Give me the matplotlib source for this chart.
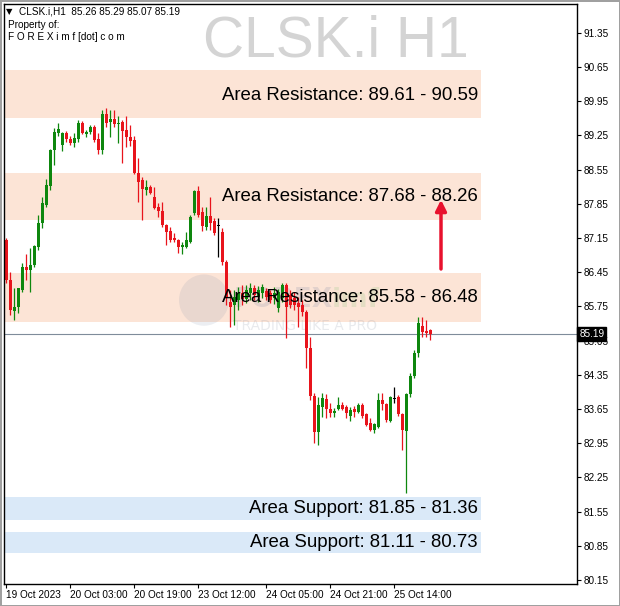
import matplotlib
matplotlib.use('Agg')
import matplotlib.pyplot as plt
import matplotlib.transforms as mtransforms
from matplotlib.patches import Ellipse

# OHLC H1 de CLSK.i
opens = [87.11, 86.29, 85.66, 85.74, 86.09, 86.56, 86.50, 86.60, 86.97, 87.46,
         87.83, 88.22, 88.96, 89.30, 89.06, 89.30, 89.18, 89.10, 89.18, 89.51,
         89.28, 89.32, 89.43, 89.18, 88.96, 89.69, 89.53, 89.59, 89.49, 89.53,
         89.37, 89.22, 89.16, 88.48, 88.34, 88.14, 88.20, 87.99, 87.79, 87.71,
         87.42, 87.30, 87.15, 87.11, 86.97, 86.97, 87.07, 87.67, 88.11, 87.69,
         87.38, 87.60, 87.50, 87.40, 87.28, 86.66, 85.84, 85.78, 85.88, 86.03,
         85.90, 86.03, 86.13, 85.94, 86.03, 86.07, 86.03, 85.92, 85.72, 85.92,
         86.19, 85.99, 85.92, 85.82, 85.78, 85.64, 84.90, 83.92, 83.18, 83.69,
         83.85, 83.65, 83.57, 83.65, 83.73, 83.69, 83.51, 83.65, 83.59, 83.73,
         83.55, 83.36, 83.22, 83.28, 83.84, 83.75, 83.40, 83.85, 83.90, 83.55,
         83.20, 83.96, 84.33, 84.80, 85.35, 85.25, 85.26]
highs = [87.15, 86.46, 86.13, 86.13, 86.64, 86.83, 86.95, 87.01, 87.63, 87.99,
         88.36, 88.98, 89.41, 89.51, 89.32, 89.34, 89.24, 89.30, 89.57, 89.55,
         89.37, 89.47, 89.47, 89.30, 89.78, 89.82, 89.78, 89.78, 89.65, 89.57,
         89.65, 89.47, 89.24, 88.79, 88.40, 88.34, 88.24, 88.20, 87.87, 87.89,
         87.44, 87.38, 87.26, 87.13, 87.07, 87.28, 87.63, 88.14, 88.22, 87.79,
         87.79, 87.99, 87.56, 87.56, 87.36, 86.70, 86.09, 86.09, 86.15, 86.19,
         86.19, 86.23, 86.19, 86.17, 86.21, 86.13, 86.09, 86.15, 86.11, 86.23,
         86.23, 86.09, 86.05, 85.94, 85.88, 85.68, 85.13, 83.98, 83.90, 83.98,
         83.96, 83.77, 83.67, 83.90, 83.80, 83.73, 83.69, 83.71, 83.77, 83.77,
         83.57, 83.47, 83.36, 83.98, 83.98, 83.77, 83.92, 84.10, 83.94, 83.57,
         83.98, 84.39, 84.86, 85.53, 85.53, 85.47, 85.29]
lows = [86.23, 85.58, 85.47, 85.62, 86.05, 86.29, 86.05, 86.56, 86.91, 87.36,
        87.79, 88.14, 88.65, 89.24, 88.94, 89.12, 89.06, 89.02, 89.12, 89.28,
        89.22, 89.28, 89.12, 88.87, 88.87, 89.43, 89.22, 89.43, 89.10, 88.69,
        89.02, 89.04, 88.46, 87.89, 87.52, 88.03, 88.06, 87.75, 87.58, 87.38,
        87.01, 87.07, 87.07, 86.85, 86.83, 86.95, 87.05, 87.63, 87.58, 87.30,
        87.32, 87.32, 87.22, 86.77, 86.60, 85.78, 85.33, 85.37, 85.68, 85.78,
        85.82, 85.88, 85.88, 85.84, 85.92, 85.88, 85.82, 85.80, 85.64, 85.84,
        85.11, 85.72, 85.68, 85.33, 85.55, 84.49, 83.84, 82.96, 82.91, 83.49,
        83.47, 83.49, 83.49, 83.63, 83.63, 83.47, 83.40, 83.49, 83.57, 83.47,
        83.30, 83.20, 83.16, 83.26, 83.63, 83.38, 83.38, 83.77, 83.51, 82.81,
        81.93, 83.90, 84.29, 84.72, 85.13, 85.13, 85.07]
closes = [86.29, 85.68, 85.74, 86.13, 86.56, 86.50, 86.60, 86.99, 87.46, 87.87,
          88.24, 88.96, 89.32, 89.39, 89.30, 89.18, 89.10, 89.20, 89.51, 89.30,
          89.32, 89.43, 89.16, 88.96, 89.69, 89.51, 89.59, 89.49, 89.51, 89.34,
          89.22, 89.14, 88.48, 88.30, 88.16, 88.20, 88.08, 87.77, 87.71, 87.42,
          87.28, 87.11, 87.11, 86.97, 87.01, 87.11, 87.58, 88.11, 87.63, 87.40,
          87.60, 87.46, 87.26, 87.40, 86.66, 85.92, 85.74, 85.94, 86.03, 85.90,
          86.09, 86.13, 85.99, 86.09, 86.15, 85.94, 85.88, 86.03, 86.05, 86.19,
          85.74, 85.78, 85.78, 85.74, 85.64, 84.90, 83.92, 83.18, 83.73, 83.87,
          83.65, 83.57, 83.61, 83.73, 83.65, 83.57, 83.63, 83.59, 83.73, 83.51,
          83.32, 83.22, 83.34, 83.84, 83.75, 83.42, 83.90, 83.85, 83.55, 83.22,
          83.96, 84.33, 84.80, 85.41, 85.23, 85.21, 85.19]

# zones (bornes) et leurs libellés
resistance_zones = [(89.61, 90.59), (87.52, 88.48), (85.43, 86.44)]
resistance_labels = ['Area Resistance: 89.61 - 90.59',
                     'Area Resistance: 87.68 - 88.26',
                     'Area Resistance: 85.58 - 86.48']
resistance_text_y = [90.06, 88.01, 85.94]
support_zones = [(81.38, 81.85), (80.70, 81.13)]
support_labels = ['Area Support: 81.85 - 81.36', 'Area Support: 81.11 - 80.73']

last_price = 85.19
arrow_from = 86.46
arrow_to = 87.99

time_ticks = [0, 16, 32, 48, 65, 81, 97]
time_labels = ['19 Oct 2023', '20 Oct 03:00', '20 Oct 19:00', '23 Oct 12:00',
               '24 Oct 05:00', '24 Oct 21:00', '25 Oct 14:00']
price_ticks = [80.15, 80.85, 81.55, 82.25, 82.95, 83.65, 84.35, 85.05, 85.75,
               86.45, 87.15, 87.85, 88.55, 89.25, 89.95, 90.65, 91.35]

small = 'Liberation Sans'

fig = plt.figure(figsize=(6.2, 6.06), dpi=100)
ax = fig.add_axes([4 / 620, 22 / 606, 573 / 620, 580 / 606])
ax.set_xlim(-0.5, 142.75)
ax.set_ylim(80.07, 91.94)

# zones
for lo, hi in resistance_zones:
    ax.axhspan(lo, hi, xmin=0.002, xmax=0.8325, color='#FCE4D6', lw=0, zorder=0)
for lo, hi in support_zones:
    ax.axhspan(lo, hi, xmin=0.002, xmax=0.8325, color='#DAE9F8', lw=0, zorder=0)

# filigrane
ax.text(0.579, 0.935, 'CLSK.i H1', transform=ax.transAxes, ha='center', va='center',
        fontsize=41, color='#D4D4D4', family='Liberation Sans', zorder=0.5)
ax.add_patch(Ellipse((49.5, 85.88), 12.5, 1.05, color='#7080A0', alpha=0.13, lw=0, zorder=0.6))
ax.text(0.40, 0.49, 'FOREX', transform=ax.transAxes, ha='left', va='center',
        fontsize=19, fontweight='bold', color='#7080A0', alpha=0.18, zorder=0.6)
ax.text(0.572, 0.49, 'imf', transform=ax.transAxes, ha='left', va='center',
        fontsize=19, fontweight='bold', color='#7CC070', alpha=0.18, zorder=0.6)
ax.text(0.40, 0.445, 'TRADING LIKE A PRO', transform=ax.transAxes, ha='left', va='center',
        fontsize=10, color='#9098A8', alpha=0.2, zorder=0.6)

# ligne du prix courant
ax.axhline(last_price, color='#7F8C9A', lw=0.8, zorder=1)

# bougies
for i in range(len(opens)):
    o, h, l, c = opens[i], highs[i], lows[i], closes[i]
    if c > o:
        col = '#0E870E'
    elif c < o:
        col = '#E8141C'
    else:
        col = 'black'
    ax.vlines(i, l, h, color=col, lw=0.9, zorder=2)
    ax.bar(i, max(abs(c - o), 0.02), bottom=min(o, c), width=0.75, color=col, lw=0, zorder=2)

# libellés des zones
blend = mtransforms.blended_transform_factory(ax.transAxes, ax.transData)
for lab, y in zip(resistance_labels, resistance_text_y):
    ax.text(0.827, y, lab, transform=blend, ha='right', va='center',
            fontsize=13.4, family='Liberation Sans', zorder=3)
for (lo, hi), lab in zip(support_zones, support_labels):
    ax.text(0.827, (lo + hi) / 2, lab, transform=blend, ha='right', va='center',
            fontsize=13.4, family='Liberation Sans', zorder=3)

# flèche
ax.annotate('', xy=(108.75, arrow_to), xytext=(108.75, arrow_from),
            arrowprops=dict(arrowstyle='-|>', color='#E8112D', lw=2.5, mutation_scale=16), zorder=4)

# axes
ax.yaxis.tick_right()
ax.set_yticks(price_ticks)
ax.set_yticklabels([f'{v:.2f}' for v in price_ticks], family=small)
ax.set_xticks(time_ticks)
ax.set_xticklabels(time_labels, ha='left', family=small)
ax.tick_params(axis='y', length=3, width=0.8, labelsize=7.2, pad=2)
ax.tick_params(axis='x', length=3, width=0.8, labelsize=7.2, pad=1)
for s in ax.spines.values():
    s.set_color('black')
    s.set_linewidth(1)

# étiquette du dernier prix
ax.text(1.004, last_price, f'{last_price:.2f}', transform=blend,
        ha='left', va='center', color='white', fontsize=7.2, family=small, zorder=5,
        bbox=dict(boxstyle='square,pad=0.2', fc='black', ec='black'))

# en-tête
fig.text(6 / 620, 1 - 12 / 606, '\u25BC', fontsize=6, va='center')
fig.text(19 / 620, 1 - 12 / 606, 'CLSK.i,H1  85.26 85.29 85.07 85.19', fontsize=7.2, family=small, va='center')
fig.text(8 / 620, 1 - 25 / 606, 'Property of:', fontsize=7.2, family=small, va='center')
fig.text(8 / 620, 1 - 37 / 606, 'F O R E X i m f [dot] c o m', fontsize=7.2, family=small, va='center')

fig.patch.set_edgecolor('#A0A0A0')
fig.patch.set_linewidth(2)

plt.savefig('out.png', dpi=100)
plt.close()
